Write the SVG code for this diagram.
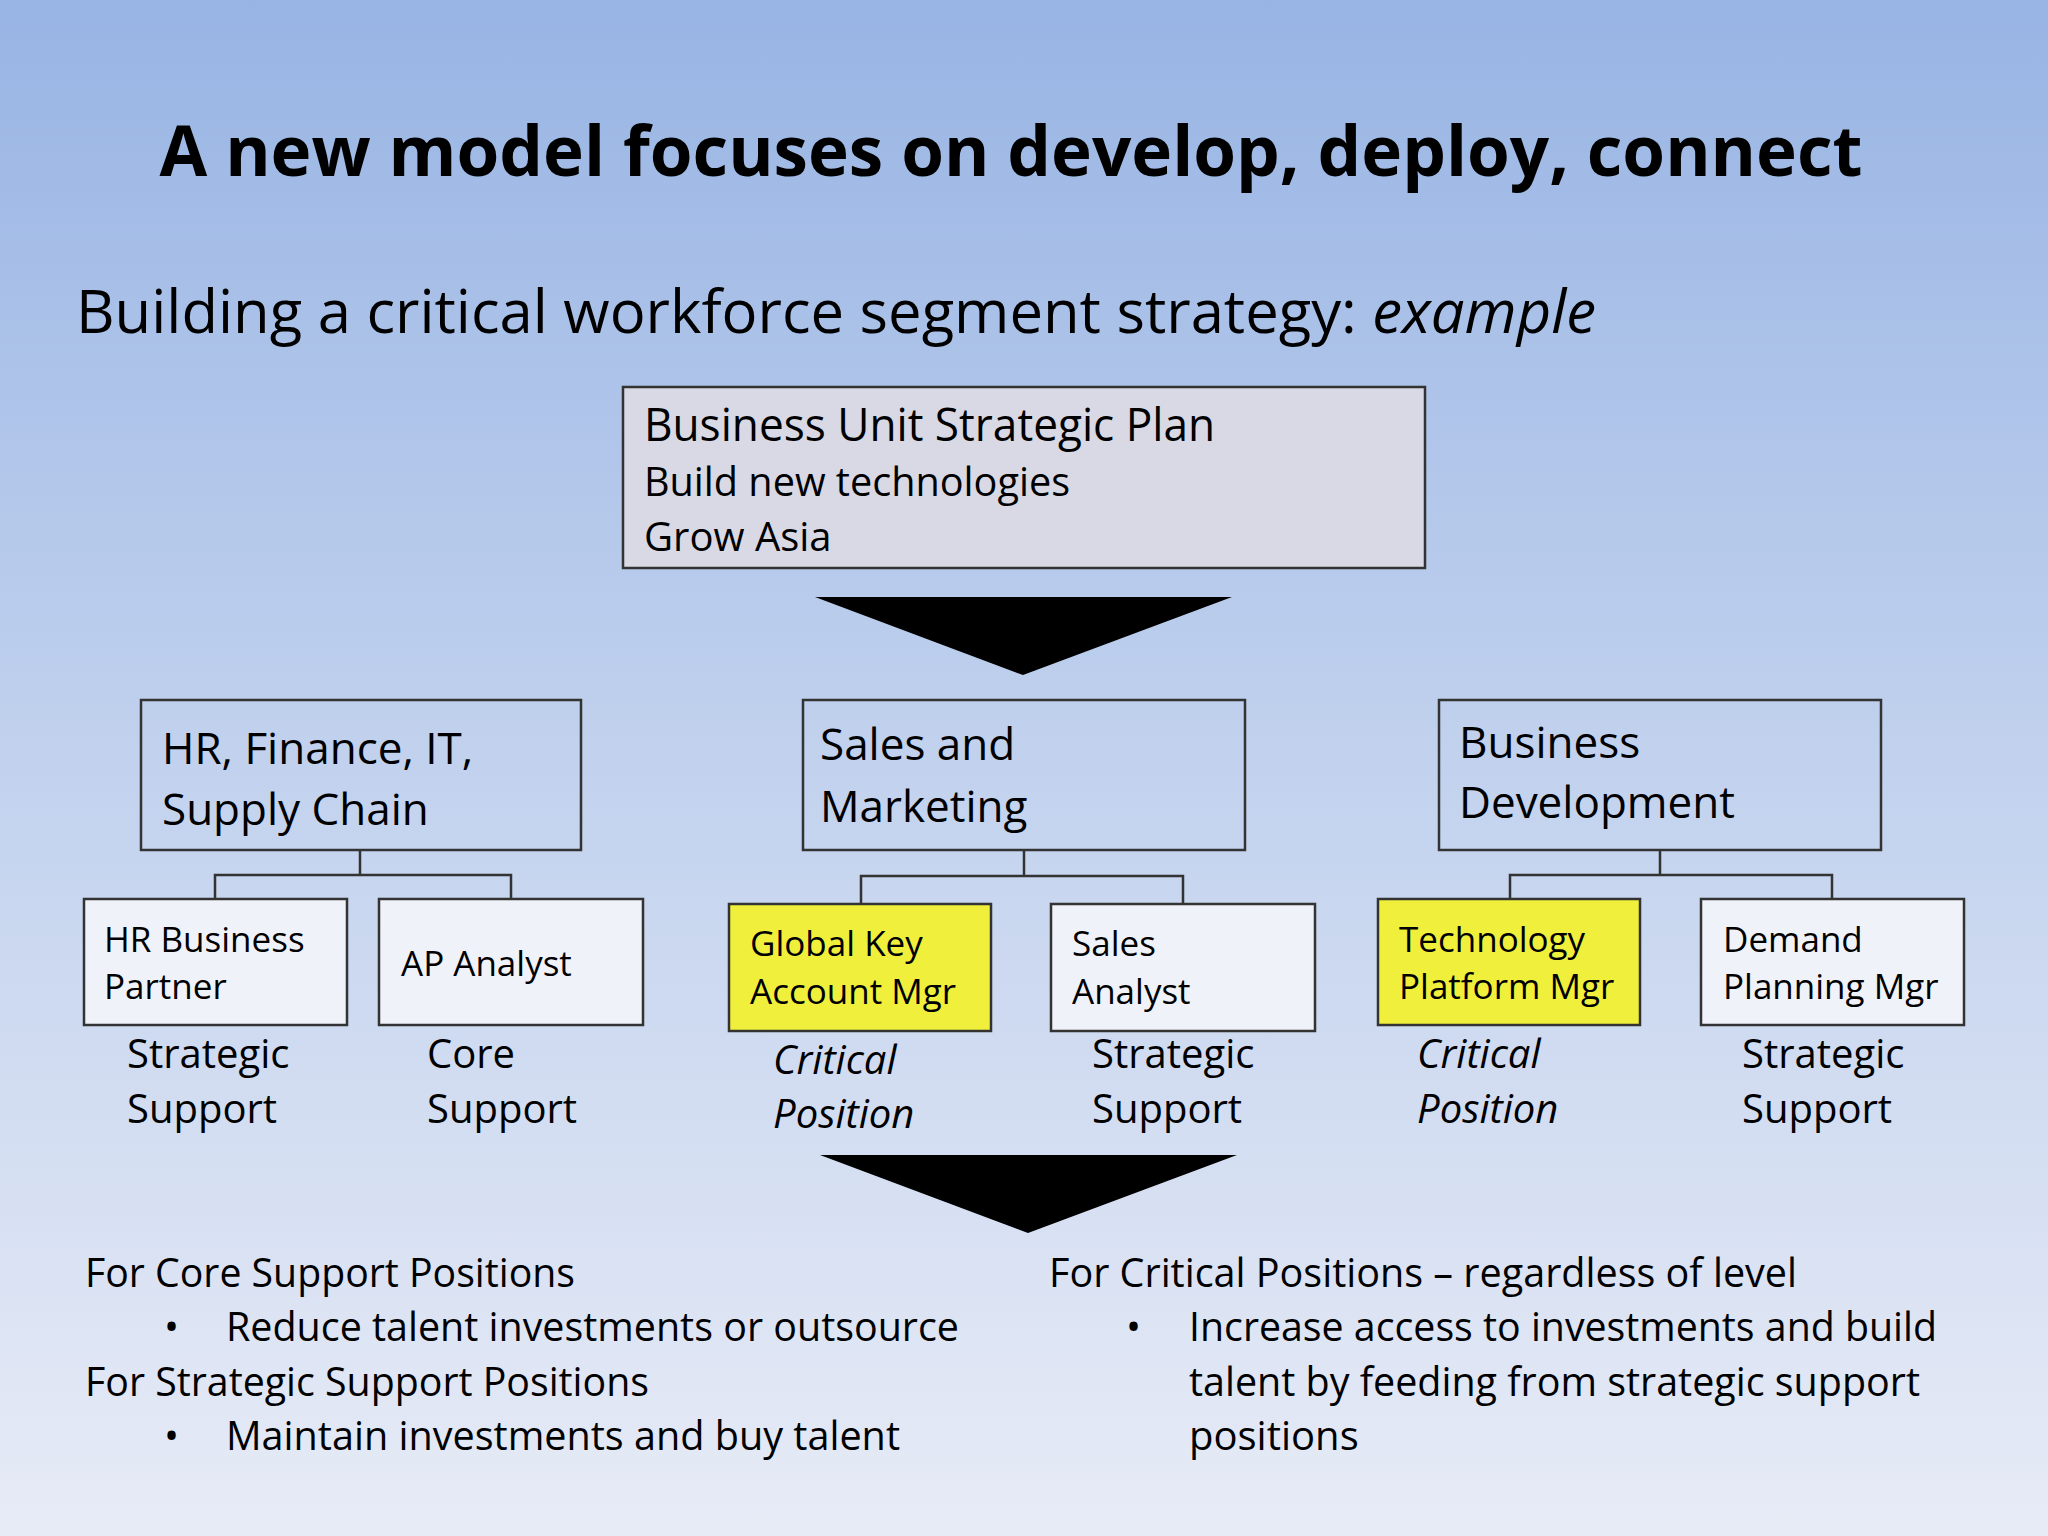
<svg xmlns="http://www.w3.org/2000/svg" width="2048" height="1536" viewBox="0 0 2048 1536">
<defs>
<linearGradient id="bg" x1="0" y1="0" x2="0" y2="1">
<stop offset="0" stop-color="#98b4e4"/><stop offset="0.5" stop-color="#c2d2ee"/><stop offset="1" stop-color="#e7ebf6"/>
</linearGradient>
<style>
text{font-family:"Open Sans","Noto Sans",sans-serif;fill:#000}
.big{font-size:44px}
.sm{font-size:35px}
.lab{font-size:40px}
.it{font-style:italic}
.box{fill:none;stroke:#333;stroke-width:2.5}
.sbox{fill:#f0f2f9;stroke:#333;stroke-width:2.5}
.ybox{fill:#f0f03c;stroke:#333;stroke-width:2.5}
.con{fill:none;stroke:#333;stroke-width:2.5}
</style>
</defs>
<rect width="2048" height="1536" fill="url(#bg)"/>
<text x="1011" y="176" text-anchor="middle" font-size="70" font-weight="bold" textLength="1703" lengthAdjust="spacingAndGlyphs">A new model focuses on develop, deploy, connect</text>
<text x="76" y="333" font-size="60" textLength="1520" lengthAdjust="spacingAndGlyphs">Building a critical workforce segment strategy: <tspan font-style="italic">example</tspan></text>

<g id="plan">
<rect x="623" y="387" width="802" height="181" fill="#d8d9e4" stroke="#333" stroke-width="2.5"/>
<text x="644" y="441" font-size="45" textLength="571" lengthAdjust="spacingAndGlyphs">Business Unit Strategic Plan</text>
<text x="644" y="496" class="lab" textLength="426" lengthAdjust="spacingAndGlyphs">Build new technologies</text>
<text x="644" y="551" class="lab">Grow Asia</text>
</g>
<g id="arrow1"><polygon points="815,597 1232,597 1023,675" fill="#000"/></g>

<g id="hr"><rect class="box" x="141" y="700" width="440" height="150"/>
<text class="big" x="162" y="764">HR, Finance, IT,</text><text class="big" x="162" y="825">Supply Chain</text></g>
<g id="sales"><rect class="box" x="803" y="700" width="442" height="150"/>
<text class="big" x="820" y="760">Sales and</text><text class="big" x="820" y="822">Marketing</text></g>
<g id="bizdev"><rect class="box" x="1439" y="700" width="442" height="150"/>
<text class="big" x="1459" y="758">Business</text><text class="big" x="1459" y="818">Development</text></g>

<g id="connectors">
<path class="con" d="M360 850V875M215 899V875H511V899"/>
<path class="con" d="M1024 850V876M861 904V876H1183V904"/>
<path class="con" d="M1660 850V875M1510 899V875H1832V899"/>
</g>

<g id="hrbp"><rect class="sbox" x="84" y="899" width="263" height="126"/>
<text class="sm" x="104" y="952">HR Business</text><text class="sm" x="104" y="999">Partner</text>
<text class="lab" x="127" y="1068">Strategic</text><text class="lab" x="127" y="1123">Support</text></g>
<g id="ap"><rect class="sbox" x="379" y="899" width="264" height="126"/>
<text class="sm" x="401" y="976">AP Analyst</text>
<text class="lab" x="427" y="1068">Core</text><text class="lab" x="427" y="1123">Support</text></g>
<g id="gkam"><rect class="ybox" x="729" y="904" width="262" height="127"/>
<text class="sm" x="750" y="956">Global Key</text><text class="sm" x="750" y="1004">Account Mgr</text>
<text class="lab it" x="773" y="1074">Critical</text><text class="lab it" x="773" y="1128">Position</text></g>
<g id="salesan"><rect class="sbox" x="1051" y="904" width="264" height="127"/>
<text class="sm" x="1072" y="956">Sales</text><text class="sm" x="1072" y="1004">Analyst</text>
<text class="lab" x="1092" y="1068">Strategic</text><text class="lab" x="1092" y="1123">Support</text></g>
<g id="tpm"><rect class="ybox" x="1378" y="899" width="262" height="126"/>
<text class="sm" x="1399" y="952">Technology</text><text class="sm" x="1399" y="999">Platform Mgr</text>
<text class="lab it" x="1417" y="1068">Critical</text><text class="lab it" x="1417" y="1123">Position</text></g>
<g id="dpm"><rect class="sbox" x="1701" y="899" width="263" height="126"/>
<text class="sm" x="1723" y="952">Demand</text><text class="sm" x="1723" y="999">Planning Mgr</text>
<text class="lab" x="1742" y="1068">Strategic</text><text class="lab" x="1742" y="1123">Support</text></g>

<g id="arrow2"><polygon points="820,1155 1237,1155 1028,1233" fill="#000"/></g>

<g id="notes" class="lab">
<text class="lab" x="85" y="1287" textLength="490" lengthAdjust="spacingAndGlyphs">For Core Support Positions</text>
<text class="lab" x="164" y="1341">•</text>
<text class="lab" x="226" y="1341" textLength="733" lengthAdjust="spacingAndGlyphs">Reduce talent investments or outsource</text>
<text class="lab" x="85" y="1396" textLength="564" lengthAdjust="spacingAndGlyphs">For Strategic Support Positions</text>
<text class="lab" x="164" y="1450">•</text>
<text class="lab" x="226" y="1450" textLength="674" lengthAdjust="spacingAndGlyphs">Maintain investments and buy talent</text>
<text class="lab" x="1049" y="1287" textLength="748" lengthAdjust="spacingAndGlyphs">For Critical Positions – regardless of level</text>
<text class="lab" x="1126" y="1341">•</text>
<text class="lab" x="1189" y="1341" textLength="748" lengthAdjust="spacingAndGlyphs">Increase access to investments and build</text>
<text class="lab" x="1189" y="1396" textLength="731" lengthAdjust="spacingAndGlyphs">talent by feeding from strategic support</text>
<text class="lab" x="1189" y="1450">positions</text>
</g>
</svg>
